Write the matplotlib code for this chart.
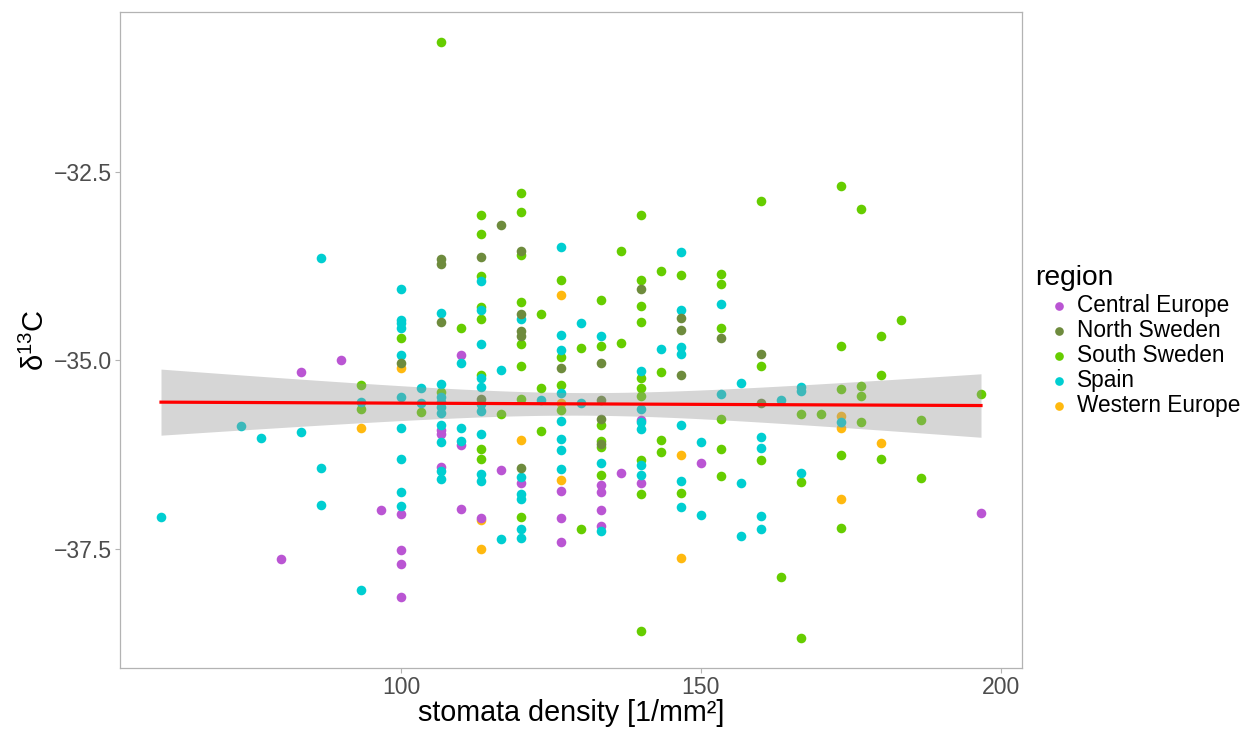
import numpy as np
import matplotlib
matplotlib.use('Agg')
import matplotlib.pyplot as plt

plt.rcParams['font.family'] = ['Liberation Sans', 'DejaVu Sans']
plt.rcParams['mathtext.fontset'] = 'custom'
plt.rcParams['mathtext.rm'] = 'Liberation Sans'
plt.rcParams['mathtext.it'] = 'Liberation Sans:italic'

# values: stomata density [1/mm2] and delta 13C per region
central_x = [80, 83.3, 90, 96.7, 100, 100, 100, 100, 106.7, 106.7, 106.7,
             110, 110, 110, 113.3, 116.7, 120, 126.7, 126.7, 126.7,
             133.3, 133.3, 133.3, 133.3, 136.7, 140, 140, 150, 196.7]
central_y = [-37.63, -35.15, -34.99, -36.98, -37.04, -37.51, -37.70, -38.13, -35.92, -35.97, -36.41,
             -34.93, -36.12, -36.97, -37.09, -36.45, -36.63, -36.73, -37.09, -37.41,
             -36.65, -36.74, -36.98, -37.19, -36.49, -35.79, -36.63, -36.36, -37.02]

north_x = [100, 106.7, 106.7, 106.7, 113.3, 113.3, 116.7, 120, 120, 120, 120, 120,
           126.7, 133.3, 133.3, 133.3, 133.3, 140, 146.7, 146.7, 146.7, 153.3, 160, 160]
north_y = [-35.04, -33.66, -33.72, -34.49, -33.63, -35.51, -33.21, -33.55, -34.38, -34.61, -34.68, -36.43,
           -35.10, -35.04, -35.53, -35.78, -36.11, -34.06, -34.44, -34.60, -35.19, -34.70, -34.92, -35.56]

south_x = [93.3, 93.3, 100, 103.3, 106.7, 106.7, 110,
           113.3, 113.3, 113.3, 113.3, 113.3, 113.3, 113.3, 113.3, 116.7,
           120, 120, 120, 120, 120, 120, 120, 120, 123.3, 123.3, 123.3,
           126.7, 126.7, 126.7, 126.7, 130, 130,
           133.3, 133.3, 133.3, 133.3, 133.3, 133.3, 136.7, 136.7,
           140, 140, 140, 140, 140, 140, 140, 140, 140, 140,
           143.3, 143.3, 143.3, 143.3, 146.7, 146.7,
           153.3, 153.3, 153.3, 153.3, 153.3, 153.3, 160, 160, 160, 163.3,
           166.7, 166.7, 166.7, 170, 173.3, 173.3, 173.3, 173.3, 173.3,
           176.7, 176.7, 176.7, 176.7, 180, 180, 180, 183.3, 186.7, 186.7, 196.7]
south_y = [-35.33, -35.65, -34.70, -35.68, -30.78, -35.42, -34.57,
           -33.08, -33.32, -33.88, -34.29, -34.45, -35.20, -36.18, -36.31, -35.71,
           -32.78, -33.03, -33.60, -34.22, -34.78, -35.08, -35.51, -37.08, -34.39, -35.36, -35.93,
           -33.94, -34.95, -35.33, -35.66, -34.84, -37.23,
           -34.20, -34.81, -35.86, -36.07, -36.15, -36.52, -33.55, -34.77,
           -33.07, -33.93, -34.28, -34.49, -35.23, -35.37, -35.47, -36.32, -36.77, -38.59,
           -33.81, -35.15, -36.06, -36.21, -33.87, -36.76,
           -33.85, -33.99, -34.57, -35.77, -36.17, -36.53, -32.89, -35.08, -36.32, -37.87,
           -35.71, -36.61, -38.68, -35.71, -32.69, -34.81, -35.38, -36.26, -37.22,
           -32.99, -35.34, -35.47, -35.81, -34.68, -35.19, -36.31, -34.46, -35.79, -36.56, -35.44]

spain_x = [60, 73.3, 76.7, 83.3, 86.7, 86.7, 86.7, 93.3, 93.3,
           100, 100, 100, 100, 100, 100, 100, 100, 100, 100, 103.3, 103.3,
           106.7, 106.7, 106.7, 106.7, 106.7, 106.7, 106.7, 106.7, 106.7, 106.7,
           110, 110, 110,
           113.3, 113.3, 113.3, 113.3, 113.3, 113.3, 113.3, 113.3, 113.3, 113.3,
           116.7, 116.7, 120, 120, 120, 120, 120, 120, 123.3,
           126.7, 126.7, 126.7, 126.7, 126.7, 126.7, 126.7, 126.7, 130, 130,
           133.3, 133.3, 133.3, 140, 140, 140, 140, 140, 140, 143.3,
           146.7, 146.7, 146.7, 146.7, 146.7, 146.7, 146.7, 150, 150, 153.3, 153.3,
           156.7, 156.7, 156.7, 160, 160, 160, 160, 163.3, 166.7, 166.7, 166.7, 173.3]
spain_y = [-37.08, -35.87, -36.03, -35.95, -33.65, -36.43, -36.92, -35.55, -38.04,
           -34.06, -34.46, -34.51, -34.57, -34.93, -35.49, -35.90, -36.30, -36.74, -36.93, -35.36, -35.56,
           -34.37, -35.31, -35.49, -35.55, -35.62, -35.70, -35.85, -36.08, -36.47, -36.57,
           -35.04, -35.89, -36.07,
           -33.95, -34.33, -34.78, -35.24, -35.35, -35.58, -35.67, -35.98, -36.51, -36.60,
           -35.13, -37.36, -34.45, -36.54, -36.77, -36.83, -37.24, -37.35, -35.53,
           -33.50, -34.67, -34.86, -35.43, -35.80, -36.04, -36.19, -36.44, -34.51, -35.57,
           -34.68, -36.36, -37.26, -35.14, -35.65, -35.82, -35.91, -36.39, -36.52, -34.85,
           -33.56, -34.33, -34.82, -34.91, -35.86, -36.60, -36.94, -36.08, -37.05, -34.25, -35.44,
           -35.30, -36.62, -37.33, -36.01, -36.16, -37.06, -37.24, -35.53, -35.35, -35.41, -36.49, -35.82]

western_x = [93.3, 100, 113.3, 113.3, 120, 126.7, 126.7, 126.7, 146.7, 146.7, 173.3, 173.3, 173.3, 180]
western_y = [-35.90, -35.10, -37.11, -37.50, -36.06, -34.14, -35.56, -36.59, -36.25, -37.62,
             -35.74, -35.90, -36.83, -36.10]

regions = ['Central Europe', 'North Sweden', 'South Sweden', 'Spain', 'Western Europe']
colors = ['#BA55D3', '#6E8B3D', '#66CD00', '#00CED1', '#FFB90F']
xs = [central_x, north_x, south_x, spain_x, western_x]
ys = [central_y, north_y, south_y, spain_y, western_y]
draw_order = [4, 2, 0, 3, 1]

fig = plt.figure(figsize=(12.58, 7.30), dpi=100)
ax = fig.add_axes([120/1258, 62/730, 902/1258, 656/730])

handles = {}
for i in draw_order:
    handles[i] = ax.scatter(xs[i], ys[i], s=48, color=colors[i], linewidths=0,
                            label=regions[i], zorder=2)

# linear fit with 95% confidence band (like geom_smooth(method='lm'))
all_x = np.concatenate([np.array(v, float) for v in xs])
all_y = np.concatenate([np.array(v, float) for v in ys])
n = len(all_x)
slope, intercept = np.polyfit(all_x, all_y, 1)
resid = all_y - (intercept + slope * all_x)
s_err = np.sqrt(np.sum(resid**2) / (n - 2))
grid = np.linspace(all_x.min(), all_x.max(), 80)
fit = intercept + slope * grid
se = s_err * np.sqrt(1/n + (grid - all_x.mean())**2 / np.sum((all_x - all_x.mean())**2))
t_crit = 1.968
ax.fill_between(grid, fit - t_crit*se, fit + t_crit*se, color='#999999', alpha=0.4,
                linewidth=0, zorder=3)
ax.plot(grid, fit, color='#FF0000', linewidth=2.3, zorder=4)

xr = all_x.max() - all_x.min()
yr = all_y.max() - all_y.min()
ax.set_xlim(all_x.min() - 0.05*xr, all_x.max() + 0.05*xr)
ax.set_ylim(all_y.min() - 0.05*yr, all_y.max() + 0.05*yr)

ax.set_xticks([100, 150, 200])
ax.set_yticks([-37.5, -35.0, -32.5])
ax.set_yticklabels(['\u221237.5', '\u221235.0', '\u221232.5'])
ax.tick_params(axis='both', length=3.3, width=0.8, color='#B3B3B3',
               labelsize=16.6, labelcolor='#4D4D4D', pad=2.5)
for sp in ax.spines.values():
    sp.set_color('#B3B3B3')
    sp.set_linewidth(0.9)

ax.set_xlabel('stomata density [1/mm\u00b2]', fontsize=20.7)
ax.xaxis.set_label_coords(0.5, -0.048)
ax.set_ylabel(r'$\mathregular{\delta^{13}}$C', fontsize=21)
ax.yaxis.set_label_coords(-0.078, 0.5)

fig.text(1035/1258, 1 - 285/730, 'region', fontsize=20.3, va='baseline', ha='left')
fig.legend([handles[i] for i in range(5)], regions, loc='upper left',
           bbox_to_anchor=(1048/1258, 1 - 294/730), bbox_transform=fig.transFigure,
           frameon=False, fontsize=16.3, markerscale=0.9, handlelength=1.0,
           handletextpad=0.3, labelspacing=0.09, borderpad=0, borderaxespad=0)

fig.savefig('out.png', dpi=100)
